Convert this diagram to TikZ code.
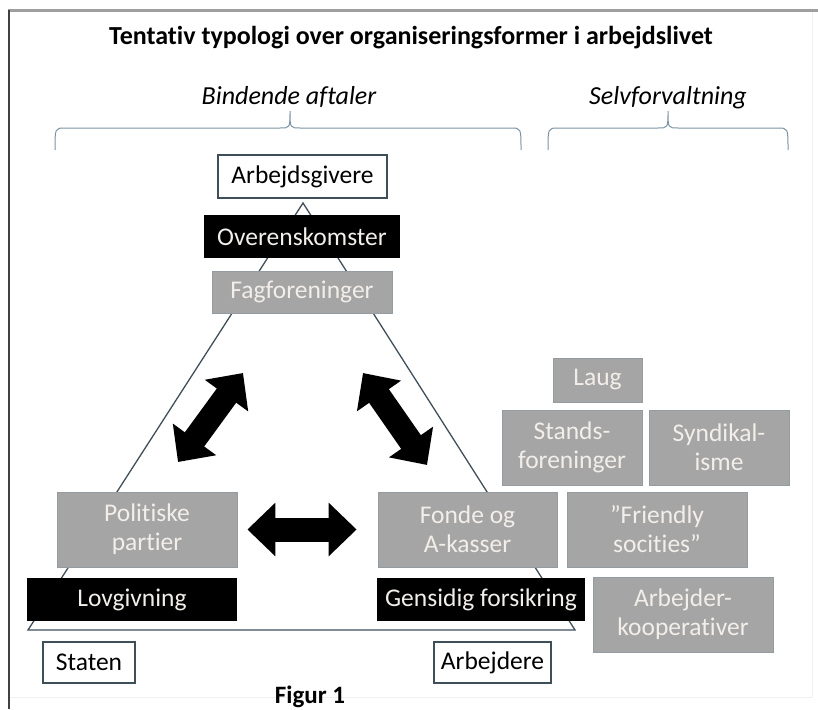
\documentclass[tikz,border=0pt]{standalone}
\usepackage{fontspec}
\setmainfont{Carlito}[Ligatures=NoCommon]
\usepackage{tikz}
\usetikzlibrary{arrows.meta}
\definecolor{kant}{HTML}{3F4F5A}
\definecolor{graafyld}{HTML}{A6A5A5}
\definecolor{graakant}{HTML}{949CA2}
\definecolor{lystekst}{HTML}{F2EEEA}
\definecolor{klamfarve}{HTML}{7B93A3}
\begin{document}
\begin{tikzpicture}[x=1pt, y=-1pt,
                boks/.style={rectangle, inner sep=0pt, align=center, font=\fontsize{25.5}{29}\selectfont},
                hvid/.style={boks, draw=kant, line width=1.3pt, fill=white, text=black},
                sort/.style={boks, fill=black, text=lystekst},
                graa/.style={boks, draw=graakant, line width=0.8pt, fill=graafyld, text=lystekst},
                pil/.style={line width=24pt, {Triangle[length=28pt,width=52pt]}-{Triangle[length=28pt,width=52pt]}}]
                \useasboundingbox (0,0) rectangle (818,709);
                % ramme
                \draw[gray!12, line width=0.8pt] (812,11) -- (812,697) -- (9,697);
                \draw[gray!75, line width=3pt] (8,11) -- (818,11);
                \draw[black!75, line width=1.5pt] (9,10) -- (9,709);
                % overskrifter
                \node [anchor=base] (titel) at (411,45) {\fontsize{26}{30}\selectfont\bfseries Tentativ typologi over organiseringsformer i arbejdslivet};
                \node [anchor=base] (bindende) at (289,104) {\fontsize{26}{30}\selectfont\itshape Bindende aftaler};
                \node [anchor=base] (selv) at (668,104) {\fontsize{26}{30}\selectfont\itshape Selvforvaltning};
                \draw[klamfarve, line width=1pt] (55,150) .. controls (55,128) .. (65,128) -- (280,128)
                    .. controls (290,128) .. (290,111) .. controls (290,128) .. (300,128) -- (511,128) .. controls (521,128) .. (521,150);
                \draw[klamfarve, line width=1pt] (548,150) .. controls (548,128) .. (558,128) -- (658,128)
                    .. controls (668,128) .. (668,111) .. controls (668,128) .. (678,128) -- (778,128) .. controls (788,128) .. (788,150);
                % trekant
                \coordinate (top) at (303,203);
                \coordinate (venstre) at (28,630);
                \coordinate (hoejre) at (575,630);
                \draw[kant, line width=1.3pt] (top) -- (venstre) -- (hoejre) -- cycle;
                % bokse
                \node [hvid, minimum width=169pt, minimum height=43pt] (arbgiv) at (302.5,176.5) {Arbejdsgivere};
                \node [sort, minimum width=196pt, minimum height=43pt] (overens) at (302,236.5) {Overenskomster};
                \node [graa, minimum width=180pt, minimum height=42pt] (fagfor) at (302,292) {Fagforeninger};
                \node [graa, minimum width=180pt, minimum height=75pt] (politisk) at (147,529.5) {Politiske\\partier};
                \node [graa, minimum width=179pt, minimum height=75pt] (fonde) at (467.5,529.5) {Fonde og\\A-kasser};
                \node [sort, minimum width=210pt, minimum height=43pt] (lovgiv) at (132,599.5) {Lovgivning};
                \node [sort, minimum width=208pt, minimum height=43pt] (gensidig) at (481,599.5) {Gensidig forsikring};
                \node [hvid, minimum width=92pt, minimum height=41pt] (staten) at (89,662.5) {Staten};
                \node [hvid, minimum width=117pt, minimum height=41pt] (arbejdere) at (492.5,662.5) {Arbejdere};
                \node [graa, minimum width=89pt, minimum height=44pt] (laug) at (597.5,380) {Laug};
                \node [graa, minimum width=140pt, minimum height=75pt] (stands) at (572,447.5) {Stands-\\foreninger};
                \node [graa, minimum width=140pt, minimum height=75pt] (syndikal) at (719,447.5) {Syndikal-\\isme};
                \node [graa, minimum width=180pt, minimum height=75pt] (friendly) at (657,529.5) {”Friendly\\socities”};
                \node [graa, minimum width=180pt, minimum height=75pt] (koop) at (683,614.5) {Arbejder-\\kooperativer};
                % pile
                \coordinate (pv1) at (178,462);
                \coordinate (pv2) at (243,373);
                \coordinate (ph1) at (363,373);
                \coordinate (ph2) at (427,465);
                \draw[pil] (pv1) -- (pv2);
                \draw[pil] (ph1) -- (ph2);
                \draw[pil] ([xshift=10pt]politisk.east) -- ([xshift=-21pt]fonde.west);
                \node [anchor=base] (figur) at (310,703) {\fontsize{25}{29}\selectfont\bfseries Figur 1};
        \end{tikzpicture}
\end{document}
